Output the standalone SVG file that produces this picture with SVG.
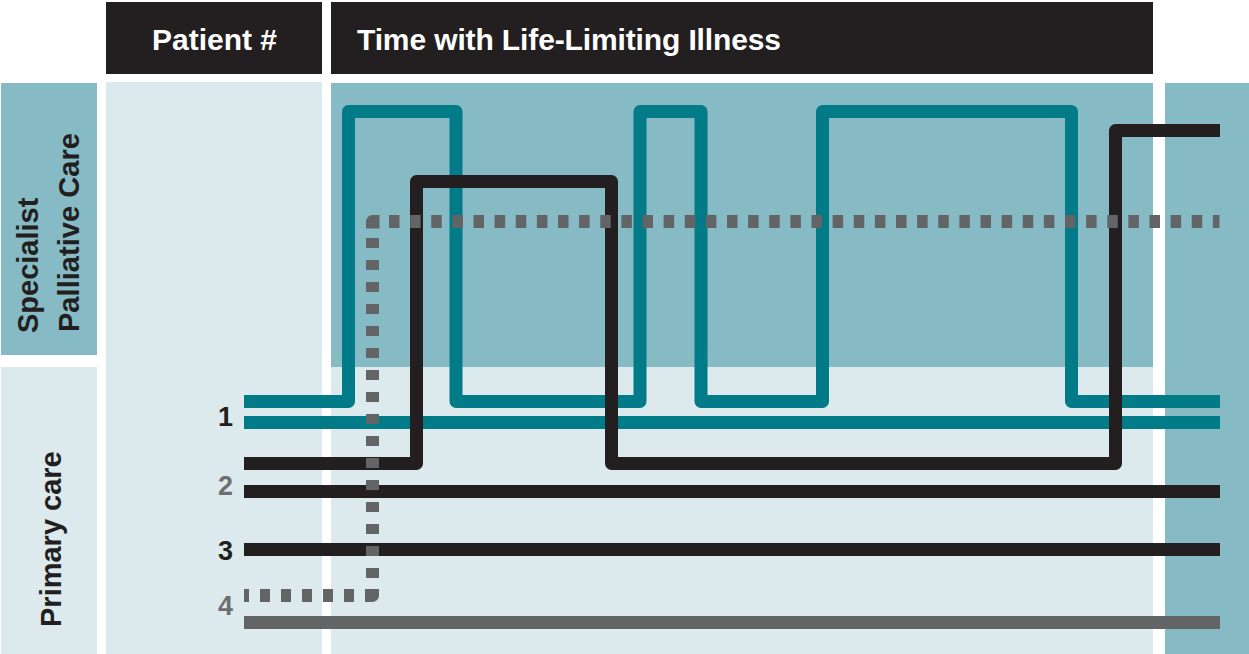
<svg xmlns="http://www.w3.org/2000/svg" width="1249" height="654" viewBox="0 0 1249 654">
<style>
.hdr{fill:#231f20}
.dark{fill:#86bbc5}
.light{fill:#dce9ed}
.htxt{font-family:"Liberation Sans",Arial,sans-serif;font-weight:bold;font-size:30px;fill:#ffffff}
.side{font-family:"Liberation Sans",Arial,sans-serif;font-weight:bold;font-size:29px;fill:#231f20}
.num{font-family:"Liberation Sans",Arial,sans-serif;font-weight:bold;font-size:27px;text-anchor:end}
.ln{fill:none;stroke-width:13;stroke-linejoin:round;stroke-linecap:butt}
.teal{stroke:#007b87}
.blk{stroke:#231f20}
.gry{stroke:#636466}
</style>
<rect width="1249" height="654" fill="#ffffff"/>
<g id="backgrounds">
<rect class="hdr" x="106" y="2" width="216" height="72"/>
<rect class="hdr" x="331" y="2" width="822" height="72"/>
<rect class="dark" x="1" y="83" width="96" height="272"/>
<rect class="light" x="1" y="367" width="96" height="287"/>
<rect class="light" x="106" y="82" width="216" height="572"/>
<rect class="dark" x="331" y="83" width="822" height="284"/>
<rect class="light" x="331" y="367" width="822" height="287"/>
<rect class="dark" x="1165" y="83" width="84" height="571"/>
</g>
<g id="header-patient"><text class="htxt" x="152" y="50">Patient #</text></g>
<g id="header-time"><text class="htxt" x="357" y="50" textLength="424">Time with Life-Limiting Illness</text></g>
<g id="label-specialist">
<text class="side" transform="translate(38,333) rotate(-90)">Specialist</text>
<text class="side" transform="translate(79,332) rotate(-90)" textLength="199">Palliative Care</text>
</g>
<g id="label-primary"><text class="side" transform="translate(61,627) rotate(-90)">Primary care</text></g>
<g id="patient-numbers">
<text class="num" x="233" y="426" fill="#231f20">1</text>
<text class="num" x="233" y="495" fill="#6d6e71">2</text>
<text class="num" x="233" y="560" fill="#231f20">3</text>
<text class="num" x="233" y="615" fill="#6d6e71">4</text>
</g>
<g id="connectors">
<g id="patient1">
<path class="ln teal" d="M244,401.5 H348.5 V111.5 H456 V401.5 H640 V111.5 H701 V401.5 H822.5 V111.5 H1071.5 V401.5 H1220"/>
<path class="ln teal" d="M244,422.5 H1220"/>
</g>
<g id="patient2">
<path class="ln blk" d="M244,463.5 H416.5 V181.5 H611.5 V463.5 H1115.5 V130.5 H1220"/>
<path class="ln blk" d="M244,491.5 H1220"/>
</g>
<g id="patient3">
<path class="ln blk" d="M244,549.5 H1220"/>
</g>
<g id="patient4">
<path class="ln gry" d="M244,622.5 H1220"/>
<path class="ln gry" d="M244,595.5 H355" stroke-dasharray="10 11" stroke-dashoffset="5"/>
<path class="ln gry" d="M365,595.5 H372.5 V589"/>
<path class="ln gry" d="M372.5,578 V238" stroke-dasharray="10 12"/>
<path class="ln gry" d="M372.5,228.5 V221.5 H379.5"/>
<path class="ln gry" d="M389,221.5 H1219.5" stroke-dasharray="10.5 10.625"/>
</g>
</g>
</svg>
